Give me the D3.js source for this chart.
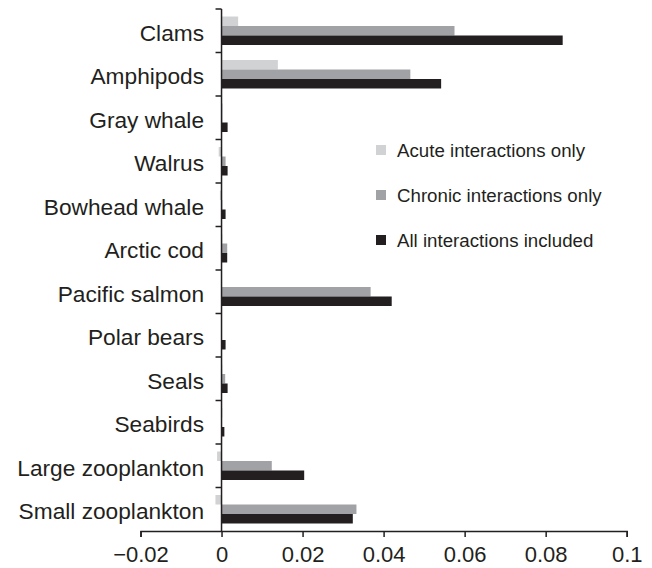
<!DOCTYPE html>
<html>
<head>
<meta charset="utf-8">
<script src="https://cdn.jsdelivr.net/npm/d3@7"></script>
<style>
  html, body { margin: 0; padding: 0; background: #fff; }
  svg { display: block; font-family: "Liberation Sans", Arial, Helvetica, sans-serif; }
</style>
</head>
<body>
<svg id="chart" width="652" height="568"></svg>
<script>
const categories = ["Clams","Amphipods","Gray whale","Walrus","Bowhead whale","Arctic cod","Pacific salmon","Polar bears","Seals","Seabirds","Large zooplankton","Small zooplankton"];
const seriesNames = ["Acute interactions only","Chronic interactions only","All interactions included"];
const acute   = [0.0041, 0.0139, 0.0003, -0.0007, -0.0004, 0.0002, 0, 0, 0.0002, 0.0002, -0.0011, -0.0015];
const chronic = [0.0575, 0.0466, 0.0002, 0.0010, 0.0002, 0.0014, 0.0368, 0.0001, 0.0009, 0.0001, 0.0124, 0.0333];
const allInt  = [0.0842, 0.0542, 0.0015, 0.0015, 0.0010, 0.0014, 0.0420, 0.0010, 0.0015, 0.0007, 0.0204, 0.0324];
const tickValues = [-0.02, 0, 0.02, 0.04, 0.06, 0.08, 0.1];
const tickLabels = ["\u22120.02", "0", "0.02", "0.04", "0.06", "0.08", "0.1"];
const colors = ["#d1d2d4", "#a1a2a5", "#231f20"];

const seriesValues = [acute, chronic, allInt];
const svg = d3.select("#chart");
const axisColor = "#231f20";

const x = d3.scaleLinear().domain([-0.02, 0.1]).range([140.5, 626.7]);
const y0 = d3.scaleBand().domain(categories).range([9, 531]).paddingInner(0.345).paddingOuter(0.1725);
const y1 = d3.scaleBand().domain(seriesNames).range([0, y0.bandwidth()]);

// bars
const g = svg.append("g");
categories.forEach((c, i) => {
  seriesNames.forEach((s, j) => {
    const v = seriesValues[j][i];
    g.append("rect")
      .attr("x", x(Math.min(0, v)))
      .attr("y", y0(c) + y1(s))
      .attr("width", Math.abs(x(v) - x(0)))
      .attr("height", y1.bandwidth())
      .attr("fill", colors[j]);
  });
});

// x axis
const xAxis = d3.axisBottom(x).tickValues(tickValues).tickSizeOuter(0).tickSize(6).tickPadding(9)
  .tickFormat((d, i) => tickLabels[i]);
const gx = svg.append("g").attr("transform", "translate(0,531)").call(xAxis);
gx.select(".domain").attr("stroke", axisColor).attr("stroke-width", 1.5);
gx.selectAll(".tick line").attr("stroke", axisColor).attr("stroke-width", 1.5);
gx.selectAll(".tick text").attr("fill", "#231f20").style("font-size", "22px")
  .style("font-family", "'Liberation Sans', Arial, sans-serif");

// y axis (line with ticks at band boundaries)
const gy = svg.append("g");
const x0 = x(0);
gy.append("line").attr("x1", x0).attr("x2", x0).attr("y1", 9).attr("y2", 531)
  .attr("stroke", axisColor).attr("stroke-width", 1.5);
const boundaries = categories.map(c => y0(c) - y0.step() * y0.paddingOuter());
gy.selectAll("line.bt").data(boundaries).enter().append("line")
  .attr("class", "bt")
  .attr("x1", x0 - 6).attr("x2", x0).attr("y1", d => d).attr("y2", d => d)
  .attr("stroke", axisColor).attr("stroke-width", 1.5);
gy.selectAll("text").data(categories).enter().append("text")
  .attr("x", 204)
  .attr("y", d => y0(d) + y0.bandwidth() / 2 + 10)
  .attr("text-anchor", "end")
  .attr("fill", "#231f20")
  .style("font-size", "22.7px")
  .text(d => d);

// legend
const lg = svg.append("g").attr("transform", "translate(376,145)");
seriesNames.forEach((s, j) => {
  lg.append("rect").attr("x", 0).attr("y", j * 45).attr("width", 10).attr("height", 10).attr("fill", colors[j]);
  lg.append("text").attr("x", 21).attr("y", j * 45 + 12).attr("fill", "#231f20")
    .style("font-size", "18.7px").text(s);
});
</script>
</body>
</html>
